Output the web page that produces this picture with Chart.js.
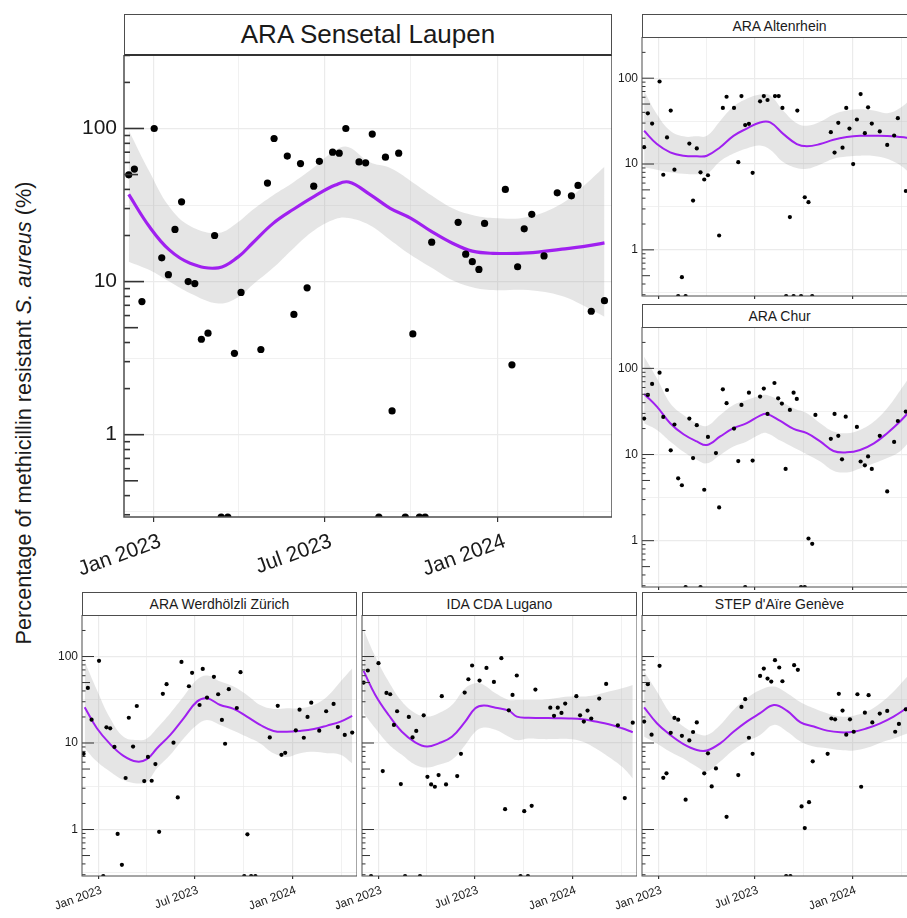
<!DOCTYPE html>
<html>
<head>
<meta charset="utf-8">
<script src="https://cdn.jsdelivr.net/npm/chart.js@4.4.1/dist/chart.umd.min.js"></script>
<style>
  html, body { margin: 0; padding: 0; background: #fff; overflow: hidden; }
  body { width: 907px; height: 918px; position: relative; font-family: 'Liberation Sans', Arial, sans-serif; color: #1a1a1a; }
  .strip { position: absolute; box-sizing: border-box; border: 1px solid #4d4d4d; background: #fff;
           display: flex; align-items: center; justify-content: center; white-space: nowrap; color: #1a1a1a; }
  canvas { position: absolute; }
  #ytitle { position: absolute; left: 24px; top: 413px; transform: translate(-50%, -50%) rotate(-90deg);
            white-space: nowrap; font-size: 21.7px; color: #1a1a1a; }
</style>
</head>
<body>
<div id="ytitle">Percentage of methicillin resistant <i>S. aureus</i> (%)</div>
<script>
// x values are sampling days counted from 1 Dec 2022
const xRange = ['2022-12-01', '2024-05-01'];
const xTickDates = ['2023-01-01', '2023-04-01', '2023-07-01', '2023-10-01', '2024-01-01', '2024-04-01'];
const xTickLabels = ['Jan 2023', '', 'Jul 2023', '', 'Jan 2024', ''];
const yMin = 0.29, yMax = 302;
const yGridValues = [0.3162, 1, 3.162, 10, 31.62, 100];
const yLabelValues = [1, 10, 100];

// ARA Sensetal Laupen
const laupenDays = [5, 11, 19, 32, 40, 47, 54, 61, 68, 75, 82, 89, 96, 103, 110, 117, 124, 145, 152, 159, 173, 180, 187, 194, 201, 207, 221, 228, 235, 249, 256, 263, 270, 277, 284, 291, 298, 306, 313, 319, 326, 354, 362, 369, 376, 382, 404, 411, 417, 424, 432, 445, 459, 474, 481, 495, 509];
const laupenPct = [49.8, 54.3, 7.4, 100, 14.3, 11.1, 21.9, 33.2, 10, 9.7, 4.2, 4.6, 20, 0, 0, 3.4, 8.5, 3.6, 44, 86, 66, 6.1, 59, 9.1, 42, 61, 70, 69, 100, 60.5, 59.7, 92, 0, 65, 1.43, 69, 0, 4.55, 0, 0, 18.1, 24.4, 15.1, 13.5, 12, 24, 40, 2.86, 12.5, 22.1, 27.5, 14.7, 38, 36.3, 42.5, 6.4, 7.5];
const laupenFitDays = [5, 27, 48, 70, 100, 121, 136, 158, 180, 202, 224, 238, 260, 282, 304, 326, 348, 369, 391, 428, 464, 486, 509];
const laupenFit = [37.1, 22.8, 16.1, 13.2, 12.3, 14.5, 17.8, 24.0, 29.8, 36.2, 42.7, 44.7, 37.3, 30.1, 25.9, 21.2, 17.8, 15.8, 15.3, 15.4, 16.3, 16.9, 17.9];
const laupenHigh = [97.5, 52.1, 30.8, 23.1, 20.8, 24.5, 29.3, 36.7, 44.8, 56.2, 72.2, 75.5, 60.3, 55.1, 45.3, 36.5, 30.1, 27.2, 26.0, 26.4, 32.4, 41.6, 56.2];
const laupenLow = [13.5, 11.9, 10.0, 8.4, 7.2, 7.9, 9.5, 12.3, 16.6, 21.7, 25.6, 26.0, 23.4, 18.7, 14.9, 12.3, 10.2, 9.2, 8.8, 8.8, 8.05, 7.0, 5.9];

// ARA Altenrhein
const altDays = [4, 11, 19, 33, 40, 47, 54, 61, 68, 75, 82, 89, 96, 103, 110, 117, 124, 145, 152, 159, 173, 181, 187, 194, 201, 208, 222, 229, 236, 250, 257, 264, 271, 278, 285, 292, 299, 306, 313, 320, 355, 362, 369, 377, 384, 390, 397, 404, 411, 419, 425, 432, 447, 461, 474, 481, 496];
const altPct = [15.7, 39, 29.6, 91.5, 7.5, 20.4, 41.9, 8.6, 0, 0.48, 0, 17.3, 3.75, 15.2, 8.0, 6.6, 7.4, 1.47, 45, 60.8, 45, 10.5, 61.9, 28.4, 29.4, 7.9, 53.7, 61.9, 55.7, 61.9, 61.9, 45, 0, 2.41, 0, 41.9, 0, 4.1, 3.59, 0, 23.5, 13.6, 30.2, 15.5, 45, 25.9, 10, 33, 65.3, 22.9, 45.8, 29.6, 24, 16.7, 21.5, 34.2, 4.85];
const altFitDays = [4, 28, 53, 78, 103, 122, 147, 172, 197, 222, 241, 266, 291, 310, 335, 360, 385, 410, 436, 461, 486, 508];
const altFit = [24.4, 17.1, 13.7, 12.5, 12.3, 12.5, 15.7, 21.3, 25.9, 30.5, 30.5, 22.3, 17.1, 16.1, 17.1, 19.2, 20.6, 21.3, 21.3, 21.2, 20.6, 19.9];
const altHigh = [70.8, 38.0, 24.4, 21.0, 21.0, 21.3, 31.8, 46.7, 57.7, 64.7, 63.0, 41.6, 29.9, 27.9, 31.0, 37.7, 41.9, 43.5, 41.9, 39.1, 45.4, 59.3];
const altLow = [9.2, 8.6, 8.0, 7.7, 7.6, 7.7, 10.8, 13.3, 15.2, 16.4, 14.7, 10.5, 9.0, 8.8, 9.9, 11.5, 12.2, 12.5, 12.4, 11.5, 9.6, 7.4];

// ARA Chur
const churDays = [4, 11, 19, 33, 40, 47, 54, 61, 68, 75, 82, 89, 96, 103, 110, 117, 124, 139, 145, 152, 159, 173, 181, 187, 194, 201, 208, 222, 229, 236, 249, 256, 263, 270, 278, 285, 291, 299, 306, 313, 320, 326, 355, 362, 369, 376, 383, 404, 411, 419, 425, 432, 447, 461, 474, 481, 496];
const churPct = [26.1, 49.1, 65.9, 89.1, 27.3, 56.1, 11.2, 22.3, 5.3, 4.4, 0, 26.1, 9.1, 21.9, 0, 3.9, 16.0, 10.4, 2.43, 57.1, 39.4, 20, 8.4, 37.6, 0, 52.2, 8.5, 47, 58.2, 29.6, 67.6, 44.9, 39, 6.8, 32.9, 52.2, 44.2, 0, 0, 1.06, 0.92, 28.8, 15.2, 29.6, 16.5, 8.8, 27.5, 20.9, 8.3, 7.5, 9.5, 6.8, 16.5, 3.73, 14, 24.5, 31.5];
const churFitDays = [4, 28, 53, 78, 103, 122, 147, 172, 197, 222, 235, 260, 285, 310, 335, 360, 385, 410, 436, 461, 486, 508];
const churFit = [50.5, 36.0, 23.1, 17.2, 14.2, 12.9, 16.2, 20.2, 23.1, 28.3, 29.6, 24.5, 19.8, 17.7, 14.2, 11.0, 10.6, 11.3, 13.5, 17.7, 24.5, 34.4];
const churHigh = [136, 76.6, 39.4, 28.8, 23.1, 21.5, 28.8, 37.6, 43.0, 48.2, 49.1, 41.9, 34.4, 30.1, 23.1, 18.5, 17.7, 19.3, 24.1, 34.4, 56.1, 87.5];
const churLow = [23.1, 19.3, 14.2, 10.8, 8.7, 7.9, 9.9, 12.4, 14.2, 17.2, 17.7, 14.5, 12.1, 10.1, 8.3, 6.5, 6.2, 6.9, 7.9, 9.1, 11.0, 15.5];

// ARA Werdhölzli Zürich
const werDays = [3, 11, 18, 32, 40, 46, 53, 61, 67, 75, 82, 88, 96, 103, 117, 124, 131, 138, 145, 152, 159, 172, 180, 187, 201, 207, 221, 227, 235, 248, 256, 263, 269, 276, 291, 298, 305, 311, 318, 326, 353, 368, 375, 382, 402, 409, 417, 424, 431, 446, 459, 473, 481, 494, 508];
const werPct = [7.5, 43.3, 18.6, 89.1, 0, 15.2, 14.8, 9.0, 0.89, 0.39, 3.94, 19.6, 9.1, 26.8, 3.63, 6.9, 3.66, 5.7, 0.94, 37, 47.9, 10.1, 2.35, 86.7, 45.3, 64.7, 27.5, 71.9, 33.5, 58.2, 36.6, 18.5, 9.8, 41.9, 25.4, 65.9, 0, 0.88, 0, 0, 11.6, 26.9, 7.3, 7.7, 14, 24.3, 11.5, 20, 29.3, 13.9, 23.3, 28.3, 15.3, 12.4, 13.2];
const werFitDays = [5, 28, 53, 78, 103, 122, 141, 166, 191, 216, 235, 260, 285, 310, 335, 360, 385, 410, 436, 461, 486, 508];
const werFit = [25.9, 14.8, 9.7, 7.1, 6.1, 6.5, 8.7, 12.4, 19.3, 30.1, 32.9, 27.5, 24.8, 20.2, 16.2, 13.8, 13.5, 13.8, 14.5, 15.9, 17.7, 20.6];
const werHigh = [87.5, 41.1, 19.3, 11.8, 10.8, 11.3, 14.8, 22.1, 34.4, 53.7, 60.3, 51.3, 45, 36, 27.5, 24.8, 25.2, 25.2, 27.5, 34.4, 51.3, 73.3];
const werLow = [8.7, 6.1, 4.66, 3.73, 3.41, 3.57, 5.1, 7.3, 11.3, 16.2, 18.5, 16.2, 13.9, 11.8, 9.9, 7.6, 6.9, 7.6, 7.9, 7.6, 7.3, 5.8];

// IDA CDA Lugano
const lugDays = [3, 11, 17, 31, 39, 46, 53, 60, 66, 73, 81, 88, 95, 102, 109, 116, 123, 130, 137, 144, 150, 158, 179, 186, 193, 200, 207, 221, 234, 248, 262, 269, 276, 283, 291, 298, 305, 312, 319, 326, 354, 361, 368, 375, 382, 403, 410, 417, 424, 431, 446, 459, 481, 494, 509];
const lugPct = [50, 68.9, 0, 83.7, 4.74, 37.9, 36.6, 16.2, 23.3, 3.35, 0, 20, 11.6, 13.8, 0, 20.9, 4.07, 3.32, 3.12, 4.26, 34.8, 3.32, 4.15, 7.5, 38.3, 54.6, 78.7, 52.7, 73.9, 50.9, 95.7, 1.72, 23.9, 36, 60.3, 0, 1.63, 0, 1.88, 41.5, 25.6, 20.6, 25.6, 22.3, 28.6, 34.8, 20.9, 17.7, 23.7, 19.2, 32.6, 48.2, 16, 2.31, 17.2];
const lugFitDays = [3, 25, 50, 75, 100, 122, 144, 169, 194, 213, 229, 251, 276, 291, 313, 338, 363, 389, 414, 439, 464, 489, 509];
const lugFit = [68.2, 36.0, 21.1, 13.5, 10.2, 9.1, 9.9, 11.8, 17.7, 25.2, 27.1, 25.6, 23.7, 20.2, 19.6, 19.5, 19.3, 19.2, 18.8, 17.7, 16.5, 14.8, 13.3];
const lugHigh = [204, 100, 51.3, 30.1, 22.1, 20.2, 22.1, 27.5, 43, 49.1, 47, 37.6, 31.5, 31.5, 31.5, 31.5, 32.9, 34.4, 34.4, 36, 39.4, 43, 47];
const lugLow = [22.1, 14.8, 9.7, 7.3, 5.6, 5.2, 5.6, 6.4, 9.5, 13.5, 15.1, 14.2, 11.8, 10.8, 11.3, 11.1, 11.1, 11.1, 10.4, 8.7, 6.9, 5.3, 3.9];

// STEP d'Aïre Genève
const genDays = [4, 11, 18, 33, 40, 46, 54, 61, 68, 75, 82, 89, 96, 103, 117, 124, 131, 139, 159, 181, 187, 194, 201, 208, 222, 229, 236, 243, 250, 258, 264, 271, 279, 286, 293, 300, 306, 314, 321, 349, 356, 363, 370, 377, 384, 391, 398, 405, 412, 419, 426, 433, 447, 461, 476, 483, 496];
const genPct = [17.7, 47.9, 12.5, 78, 3.96, 4.46, 13.1, 19.5, 18.6, 12.1, 2.21, 10.7, 13.4, 17.3, 4.46, 7.6, 3.15, 5.09, 1.40, 4.26, 26.1, 32.1, 11.5, 7.5, 59.7, 72.6, 55.6, 51.3, 90.7, 74.6, 51.8, 0, 0, 79.4, 70.1, 1.85, 1.04, 2.07, 6.14, 7.5, 19.2, 18.8, 37, 23.7, 12.5, 18.8, 13.5, 36.6, 3.12, 22.4, 35.7, 17.3, 21.9, 23.5, 13.5, 16.6, 24.5];
const genFitDays = [4, 28, 53, 78, 103, 122, 147, 172, 197, 222, 248, 273, 298, 323, 348, 373, 398, 423, 448, 473, 499];
const genFit = [25.9, 16.9, 12.4, 9.7, 8.3, 8.2, 9.9, 13.5, 17.7, 22.1, 27.5, 23.5, 17.3, 15.5, 13.9, 13.3, 13.5, 14.8, 16.9, 20.2, 25.6];
const genHigh = [67, 39.4, 22.1, 15.5, 12.9, 12.4, 16.2, 24.1, 32.9, 41.1, 45, 37.6, 29.6, 25.2, 22.1, 20.2, 20.7, 23.1, 28.8, 39.4, 58.6];
const genLow = [11.8, 9.9, 7.9, 6.6, 5.3, 4.7, 6.1, 8.3, 10.4, 12.4, 16.2, 13.5, 10.4, 9.1, 8.7, 8.3, 8.2, 8.8, 10.1, 11.3, 12.9];

const day0 = Date.parse(xRange[0]);
const dayOf = s => (Date.parse(s) - day0) / 864e5;
const xMin = 0, xMax = dayOf(xRange[1]);
const xTickDays = xTickDates.map(dayOf);

Chart.defaults.font.family = "'Liberation Sans', Arial, sans-serif";
Chart.defaults.color = '#1a1a1a';

// log ticks inside the panel (like annotation_logticks) + panel frame
const panelDeco = {
    id: 'panelDeco',
    afterDatasetsDraw(chart, args, o) {
        const ctx = chart.ctx, a = chart.chartArea, y = chart.scales.y;
        ctx.save();
        ctx.strokeStyle = '#333';
        ctx.lineWidth = o.tick;
        for (let e = -1; e <= 2; e++) {
            for (let k = 1; k <= 9; k++) {
                const v = k * Math.pow(10, e);
                if (v < y.min || v > y.max) continue;
                const py = y.getPixelForValue(v);
                const len = k == 1 ? o.long : (k == 5 ? o.mid : o.short);
                ctx.beginPath();
                ctx.moveTo(a.left, py);
                ctx.lineTo(a.left + len, py);
                ctx.stroke();
            }
        }
        ctx.strokeStyle = '#4d4d4d';
        ctx.lineWidth = o.frame;
        ctx.strokeRect(a.left, a.top, a.right - a.left, a.bottom - a.top);
        ctx.restore();
    }
};

function pts(xs, ys) {
    return xs.map((d, i) => ({ x: d, y: Math.max(ys[i], yMin) }));
}

function drawPanel(p) {
    const big = p.big;
    const yAxisW = big ? 84 : 60;
    const xAxisH = p.xLabels ? (big ? 70 : 40) : 6;

    const cv = document.createElement('canvas');
    cv.width = p.width + yAxisW;
    cv.height = p.height + xAxisH;
    cv.style.left = (p.left - yAxisW) + 'px';
    cv.style.top = p.top + 'px';
    document.body.appendChild(cv);

    const strip = document.createElement('div');
    strip.className = 'strip';
    strip.textContent = p.title;
    strip.style.left = p.left + 'px';
    strip.style.top = (p.top - p.strip) + 'px';
    strip.style.width = p.width + 'px';
    strip.style.height = (p.strip + 1) + 'px';
    strip.style.fontSize = (big ? 26 : 14) + 'px';
    if (big) strip.style.borderBottom = '2px solid #333';
    document.body.appendChild(strip);

    new Chart(cv, {
        type: 'line',
        data: {
            datasets: [
                { data: pts(p.fitDays, p.high), borderColor: 'rgba(0,0,0,0)', borderWidth: 0, pointRadius: 0,
                  fill: '+1', backgroundColor: 'rgba(153,153,153,0.25)', tension: 0.4, order: 2 },
                { data: pts(p.fitDays, p.low), borderColor: 'rgba(0,0,0,0)', borderWidth: 0, pointRadius: 0,
                  fill: false, tension: 0.4, order: 2 },
                { data: pts(p.fitDays, p.fit), borderColor: '#a020f0', borderWidth: big ? 3.2 : 2, pointRadius: 0,
                  fill: false, tension: 0.4, order: 1 },
                { data: pts(p.days, p.pct), showLine: false, pointRadius: big ? 3.6 : 2.1,
                  pointBackgroundColor: '#000', pointBorderWidth: 0, order: 0 }
            ]
        },
        options: {
            responsive: false,
            animation: false,
            events: [],
            layout: { padding: 0, autoPadding: false },
            plugins: {
                legend: { display: false },
                tooltip: { enabled: false },
                panelDeco: big ? { tick: 1.6, long: 20, mid: 14, short: 6, frame: 1.5 }
                               : { tick: 1, long: 12, mid: 8, short: 3.5, frame: 1 }
            },
            scales: {
                x: {
                    type: 'linear', min: xMin, max: xMax, bounds: 'data',
                    afterBuildTicks: s => { s.ticks = xTickDays.map(v => ({ value: v })); },
                    afterFit: s => { s.height = xAxisH; s.paddingLeft = 0; s.paddingRight = 0; },
                    grid: {
                        color: '#ebebeb',
                        lineWidth: c => xTickLabels[c.index] ? 1.2 : 0.7,
                        tickLength: big ? 5 : 3,
                        tickColor: c => xTickLabels[c.index] ? '#333' : 'rgba(0,0,0,0)'
                    },
                    border: { display: false },
                    ticks: {
                        display: p.xLabels, autoSkip: false, minRotation: 20, maxRotation: 20,
                        padding: big ? 7 : 4, labelOffset: big ? 7 : 3,
                        font: { size: big ? 21 : 12 }, color: '#1a1a1a',
                        callback: (v, i) => xTickLabels[i]
                    }
                },
                y: {
                    type: 'logarithmic', min: yMin, max: yMax, bounds: 'data',
                    afterBuildTicks: s => { s.ticks = yGridValues.map(v => ({ value: v })); },
                    afterFit: s => { s.width = yAxisW; s.paddingTop = 0; s.paddingBottom = 0; },
                    grid: {
                        color: '#ebebeb',
                        lineWidth: c => yLabelValues.includes(c.tick.value) ? 1.2 : 0.7,
                        drawTicks: false
                    },
                    border: { display: false },
                    ticks: {
                        display: p.yLabels, autoSkip: false, padding: big ? 7 : 4,
                        font: { size: big ? 21 : 12 }, color: '#1a1a1a',
                        callback: v => yLabelValues.includes(v) ? String(v) : ''
                    }
                }
            }
        },
        plugins: [panelDeco]
    });
}

const panels = [
    { title: 'ARA Sensetal Laupen', days: laupenDays, pct: laupenPct, fitDays: laupenFitDays, fit: laupenFit, high: laupenHigh, low: laupenLow,
      left: 124, top: 55, width: 488, height: 462, strip: 41, big: true, yLabels: true, xLabels: true },
    { title: 'ARA Altenrhein', days: altDays, pct: altPct, fitDays: altFitDays, fit: altFit, high: altHigh, low: altLow,
      left: 642, top: 37, width: 275, height: 259, strip: 23, big: false, yLabels: true, xLabels: false },
    { title: 'ARA Chur', days: churDays, pct: churPct, fitDays: churFitDays, fit: churFit, high: churHigh, low: churLow,
      left: 642, top: 327, width: 275, height: 260, strip: 23, big: false, yLabels: true, xLabels: false },
    { title: 'ARA Werdhölzli Zürich', days: werDays, pct: werPct, fitDays: werFitDays, fit: werFit, high: werHigh, low: werLow,
      left: 82, top: 615, width: 275, height: 261, strip: 23, big: false, yLabels: true, xLabels: true },
    { title: 'IDA CDA Lugano', days: lugDays, pct: lugPct, fitDays: lugFitDays, fit: lugFit, high: lugHigh, low: lugLow,
      left: 362, top: 615, width: 275, height: 261, strip: 23, big: false, yLabels: false, xLabels: true },
    { title: "STEP d'Aïre Genève", days: genDays, pct: genPct, fitDays: genFitDays, fit: genFit, high: genHigh, low: genLow,
      left: 642, top: 615, width: 275, height: 261, strip: 23, big: false, yLabels: false, xLabels: true }
];

panels.forEach(drawPanel);
</script>
</body>
</html>
